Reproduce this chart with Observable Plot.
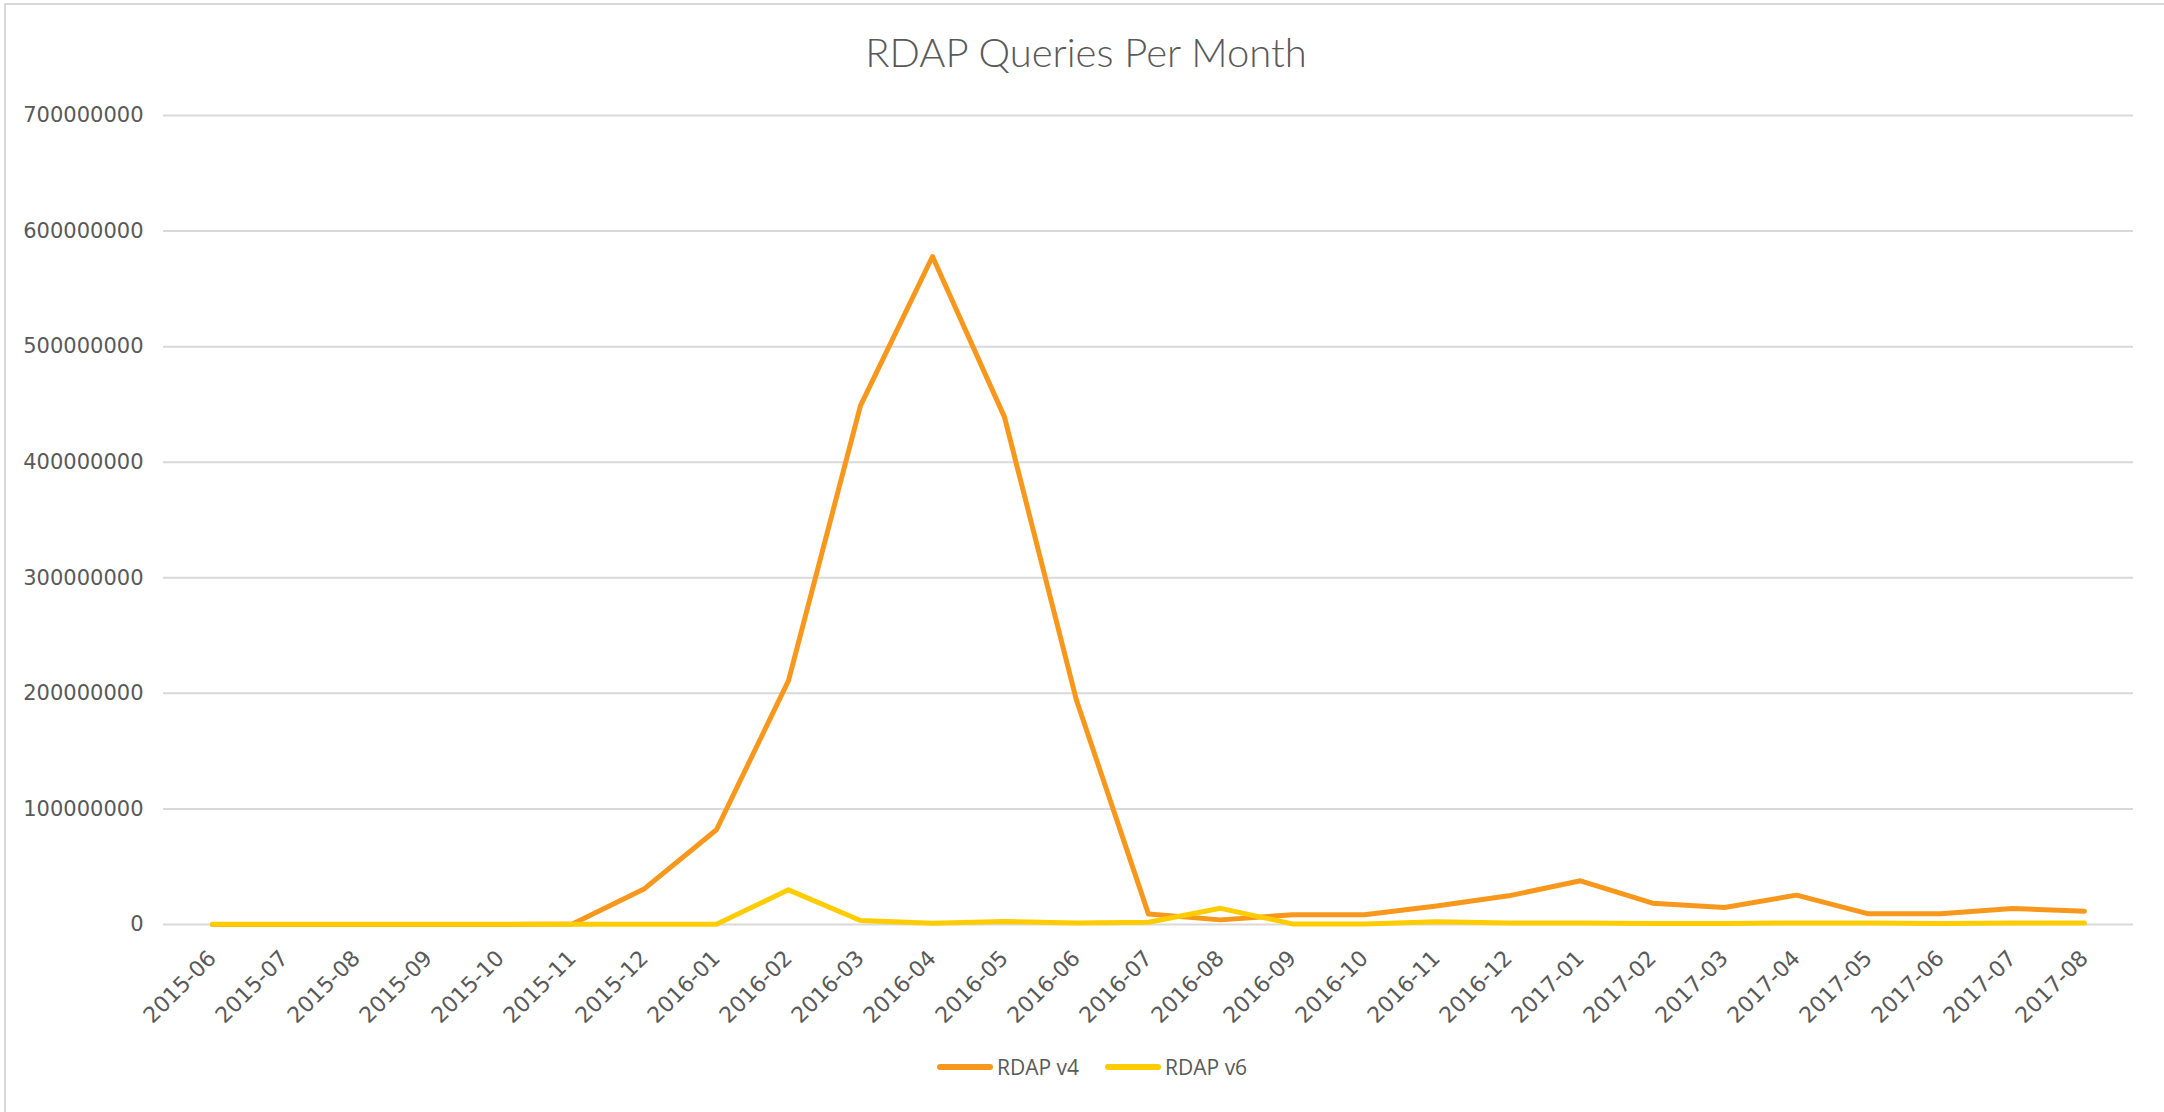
<!DOCTYPE html>
<html>
<head>
<meta charset="utf-8">
<script src="https://cdn.jsdelivr.net/npm/d3@7"></script>
<script src="https://cdn.jsdelivr.net/npm/@observablehq/plot@0.6"></script>
<style>
  html, body { margin: 0; padding: 0; background: #fff; }
  #frame { position: absolute; left: 4px; top: 3px; width: 2200px; height: 1200px;
           border-left: 2px solid #d9d9d9; border-top: 2px solid #d9d9d9; pointer-events: none; }
  #wrap { position: relative; width: 2164px; }
  #title { height: 100px; box-sizing: border-box; padding-top: 32px; line-height: 40px;
           font-family: Lato, "Open Sans", sans-serif; font-weight: 300; font-size: 40px;
           color: #595959; text-align: center; padding-left: 8px; }
  #chart svg { display: block; }
  #legend { height: 72px; box-sizing: border-box; padding-top: 14px; padding-left: 937px;
            display: flex; align-items: flex-start; }
  #legend .item { display: flex; align-items: center; height: 26px; margin-right: 26px; }
  #legend .sw { width: 56px; height: 6px; border-radius: 3px; margin-right: 4px; }
  #legend .lab { font-family: "Open Sans", sans-serif; font-size: 21px; color: #595959; line-height: 26px; }
</style>
</head>
<body>
<div id="wrap">
  <div id="title">RDAP Queries Per Month</div>
  <div id="chart"></div>
  <div id="legend"></div>
</div>
<div id="frame"></div>
<script>
const months = ["2015-06","2015-07","2015-08","2015-09","2015-10","2015-11","2015-12",
  "2016-01","2016-02","2016-03","2016-04","2016-05","2016-06","2016-07","2016-08","2016-09",
  "2016-10","2016-11","2016-12","2017-01","2017-02","2017-03","2017-04","2017-05","2017-06",
  "2017-07","2017-08"];
const rdapV4 = [0, 0, 0, 0, 0, 500000, 31000000,
  82000000, 211000000, 449000000, 578000000, 439000000, 194000000, 9000000, 4000000, 8400000,
  8400000, 16000000, 24800000, 37800000, 18400000, 14700000, 25400000, 9200000, 9200000,
  13800000, 11500000];
const rdapV6 = [200000, 200000, 200000, 200000, 200000, 200000, 200000,
  200000, 30000000, 3500000, 1000000, 2600000, 1400000, 2000000, 14000000, 500000,
  500000, 2300000, 1400000, 1400000, 800000, 800000, 1400000, 1400000, 800000,
  1400000, 1400000];
const yTicks = [0, 100000000, 200000000, 300000000, 400000000, 500000000, 600000000, 700000000];
const seriesNames = ["RDAP v4", "RDAP v6"];
const seriesColors = ["#F7981D", "#FFCC00"];

const v4Data = months.map((m, i) => ({month: m, value: rdapV4[i]}));
const v6Data = months.map((m, i) => ({month: m, value: rdapV6[i]}));

const chart = Plot.plot({
  width: 2164,
  height: 940,
  marginLeft: 163,
  marginRight: 31,
  marginTop: 15,
  marginBottom: 116,
  style: {fontFamily: "'DejaVu Sans', sans-serif", fontSize: "21px", color: "#595959", background: "transparent"},
  x: {type: "point", domain: months, padding: 0.5},
  y: {domain: [0, 700000000]},
  marks: [
    Plot.gridY(yTicks, {stroke: "#d9d9d9", strokeOpacity: 1, strokeWidth: 2}),
    Plot.axisY(yTicks, {tickSize: 0, tickPadding: 20, tickFormat: d => String(d), label: null, fill: "#595959", fontSize: 21}),
    Plot.axisX(months, {tickSize: 0, tickPadding: 30, tickRotate: -45, label: null, fill: "#595959", fontSize: 22}),
    Plot.line(v4Data, {x: "month", y: "value", stroke: seriesColors[0], strokeWidth: 5,
      strokeLinecap: "round", strokeLinejoin: "round"}),
    Plot.line(v6Data, {x: "month", y: "value", stroke: seriesColors[1], strokeWidth: 5,
      strokeLinecap: "round", strokeLinejoin: "round"})
  ]
});
document.getElementById("chart").appendChild(chart);

const legend = document.getElementById("legend");
seriesNames.forEach((name, i) => {
  const item = document.createElement("div");
  item.className = "item";
  const sw = document.createElement("div");
  sw.className = "sw";
  sw.style.background = seriesColors[i];
  const lab = document.createElement("span");
  lab.className = "lab";
  lab.textContent = name;
  item.appendChild(sw);
  item.appendChild(lab);
  legend.appendChild(item);
});
</script>
</body>
</html>
